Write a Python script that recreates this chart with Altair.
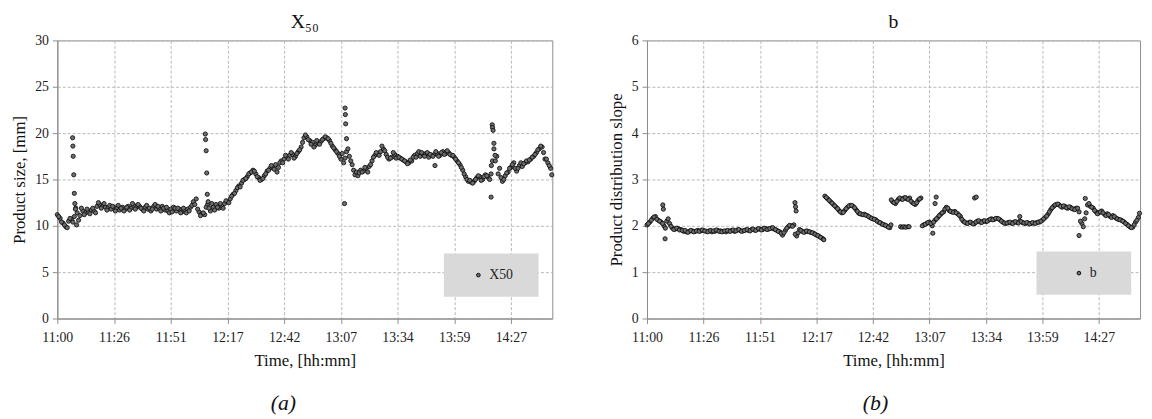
import altair as alt
import pandas as pd

tick_labels = ["11:00", "11:26", "11:51", "12:17", "12:42", "13:07", "13:34", "13:59", "14:27"]
step = 0.05  # sampling grid, in x-tick units; second list sits half a step later

x50_main = [
    11.2, 10.8, 10.3, 9.9, 10.5, 10.7, 11.0, 11.4, 11.1, 11.6,
    11.4, 11.5, 11.7, 11.6, 12.1, 12.3, 12.1, 12.0, 12.0, 11.8,
    12.0, 11.9, 11.7, 12.0, 11.8, 12.1, 11.9, 12.2, 12.0, 12.1,
    11.8, 12.0, 11.8, 11.6, 12.1, 11.8, 11.9, 12.1, 11.7, 11.6,
    11.8, 12.0, 11.6, 11.8, 11.5, 11.7, 11.8, 12.0, 12.6, 12.9,
    11.5, 11.3, 11.2, 12.3, 11.6, 12.0, 12.3, 11.9, 12.2, 12.4,
    12.6, 12.9, 13.4, 13.8, 14.3, 14.6, 15.0, 15.3, 15.7, 16.0,
    15.6, 15.2, 15.0, 15.4, 15.9, 16.2, 16.3, 16.6, 16.3, 17.0,
    17.2, 17.5, 17.6, 17.7, 17.5, 18.0, 18.5, 19.5, 19.6, 19.2,
    19.0, 18.7, 18.9, 19.1, 19.4, 19.5, 19.2, 18.6, 18.2, 17.8,
    17.2, 16.8, 18.0, 17.5, 16.6, 15.5, 15.4, 16.0, 15.9, 16.2,
    16.4, 17.0, 17.6, 17.8, 18.0, 18.3, 17.7, 17.2, 17.4, 17.7,
    17.5, 17.3, 17.1, 16.9, 16.8, 17.0, 17.6, 17.8, 17.5, 17.7,
    17.8, 17.4, 17.6, 17.7, 17.8, 17.6, 18.0, 17.8, 17.9, 17.6,
    17.4, 17.0, 16.6, 16.0, 15.3, 14.8, 14.7, 14.8, 15.2, 15.3,
    15.0, 15.5, 15.2, 15.6, 18.3, 17.5, 16.2, 14.8, 15.4, 15.8,
    16.3, 16.8, 15.9, 16.5, 16.4, 16.8, 16.9, 17.2, 17.5, 17.9,
    18.3, 18.5, 17.2, 16.8, 16.2,
]
x50_mid = [
    11.0, 10.4, 10.1, 9.8, 10.8, 10.4, 11.9, 10.6, 11.9, 11.2,
    11.8, 11.3, 11.9, 11.4, 12.5, 11.9, 12.4, 11.7, 12.2, 12.1,
    11.6, 12.2, 11.9, 11.6, 12.0, 11.7, 12.4, 11.8, 12.3, 11.9,
    11.6, 12.2, 11.9, 11.8, 12.3, 12.1, 11.6, 11.9, 12.0, 11.4,
    11.5, 11.9, 11.9, 11.4, 11.9, 11.4, 11.6, 12.2, 12.3, 11.8,
    11.1, 11.4, 12.0, 11.9, 12.4, 11.7, 12.0, 12.4, 11.9, 12.7,
    12.5, 13.2, 13.5, 14.1, 14.2, 14.9, 15.1, 15.6, 15.8, 15.9,
    15.3, 14.9, 15.1, 15.6, 16.0, 16.5, 16.1, 15.8, 16.8, 16.8,
    17.6, 17.2, 17.9, 17.3, 17.8, 18.2, 19.0, 19.8, 19.3, 18.8,
    18.5, 19.2, 18.8, 19.3, 19.6, 19.4, 18.9, 18.4, 18.0, 17.5,
    17.8, 17.3, 18.3, 17.0, 16.0, 15.8, 15.7, 15.8, 16.3, 15.8,
    16.6, 17.4, 17.9, 17.6, 18.6, 18.1, 17.4, 17.3, 17.9, 17.3,
    17.4, 17.2, 17.0, 16.7, 17.1, 17.4, 17.4, 18.0, 17.9, 17.5,
    17.9, 17.7, 17.5, 18.0, 17.5, 17.9, 17.7, 18.1, 17.7, 17.6,
    17.2, 16.8, 16.3, 15.6, 15.0, 14.9, 14.6, 15.0, 15.4, 14.9,
    15.3, 15.4, 15.0, 17.0, 17.0, 15.6, 15.2, 15.0, 15.7, 16.2,
    16.6, 16.2, 16.2, 16.8, 16.7, 17.0, 17.1, 17.4, 17.7, 18.2,
    18.6, 17.9, 17.2, 16.5,
]
x50_extra_t = [0.27, 0.275, 0.28, 0.29, 0.30, 0.31, 0.32, 0.34,
               2.61, 2.615, 2.625, 2.635, 2.645, 2.66,
               5.065, 5.075, 5.08, 5.085, 5.10, 6.66,
               7.65, 7.655, 7.67, 7.675, 7.685, 7.70, 7.72, 8.72]
x50_extra_v = [19.5, 18.6, 17.5, 15.5, 13.5, 12.4, 11.8, 10.1,
               19.9, 19.3, 18.1, 15.7, 13.4, 12.6,
               12.4, 22.7, 22.0, 21.0, 19.4, 16.5,
               13.1, 16.5, 20.9, 20.6, 20.3, 18.9, 17.6, 15.5]

b_main = [
    2.02, 2.08, 2.16, 2.20, 2.12, 2.08, 2.00, 2.10, 2.05, 1.95,
    1.93, 1.94, 1.92, 1.88, 1.87, 1.88, 1.89, 1.88, 1.90, 1.89,
    1.90, 1.88, 1.89, 1.87, 1.88, 1.90, 1.89, 1.88, 1.87, 1.89,
    1.90, 1.88, 1.91, 1.90, 1.89, 1.91, 1.90, 1.92, 1.91, 1.92,
    1.93, 1.92, 1.94, 1.93, 1.95, 1.93, 1.90, 1.87, 1.80, 1.90,
    1.98, 2.00, 2.02, 1.78, 1.92, 1.88, 1.87, 1.88, 1.86, 1.84,
    1.80, 1.77, 1.73, 2.64, 2.58, 2.52, 2.46, 2.40, 2.33, 2.28,
    2.33, 2.40, 2.44, 2.42, 2.35, 2.27, 2.25, 2.25, 2.22, 2.18,
    2.15, 2.13, 2.08, 2.05, 2.02, 1.99, 1.96, 2.52, 2.48, 2.57,
    2.58, 2.60, 2.58, 2.60, 2.50, 2.46, 2.55, 2.60, 2.02, 2.05,
    2.08, 2.00, 2.12, 2.18, 2.25, 2.30, 2.40, 2.33, 2.30, 2.31,
    2.26, 2.20, 2.10, 2.06, 2.07, 2.06, 2.05, 2.10, 2.08, 2.10,
    2.09, 2.12, 2.15, 2.14, 2.16, 2.13, 2.08, 2.05, 2.07, 2.06,
    2.08, 2.07, 2.10, 2.07, 2.05, 2.06, 2.05, 2.06, 2.07, 2.08,
    2.12, 2.18, 2.25, 2.35, 2.42, 2.46, 2.45, 2.40, 2.42, 2.38,
    2.40, 2.36, 2.38, 2.30, 2.05, 2.15, 2.45, 2.42, 2.38, 2.30,
    2.28, 2.32, 2.25, 2.26, 2.20, 2.22, 2.17, 2.14, 2.12, 2.08,
    2.03, 1.98, 1.97, 2.08, 2.18,
]
b_mid = [
    2.05, 2.12, 2.19, 2.14, 2.10, 2.05, 1.95, 2.15, 1.99, 1.92,
    1.95, 1.91, 1.90, 1.90, 1.86, 1.90, 1.87, 1.89, 1.88, 1.91,
    1.89, 1.87, 1.90, 1.89, 1.91, 1.88, 1.87, 1.89, 1.90, 1.88,
    1.91, 1.89, 1.92, 1.88, 1.90, 1.92, 1.89, 1.93, 1.90, 1.94,
    1.91, 1.95, 1.92, 1.94, 1.96, 1.92, 1.88, 1.84, 1.85, 1.95,
    2.01, 1.99, 1.82, 1.85, 1.90, 1.86, 1.89, 1.87, 1.85, 1.82,
    1.79, 1.75, 1.71, 2.61, 2.55, 2.49, 2.43, 2.37, 2.30, 2.29,
    2.37, 2.43, 2.44, 2.39, 2.31, 2.26, 2.24, 2.23, 2.20, 2.16,
    2.14, 2.10, 2.07, 2.03, 2.01, 1.97, 2.56, 2.50, 2.53, 2.60,
    2.57, 2.61, 2.57, 2.53, 2.48, 2.50, 2.58, 2.00, 2.03, 2.07,
    2.05, 2.08, 2.15, 2.22, 2.28, 2.36, 2.38, 2.31, 2.29, 2.28,
    2.23, 2.14, 2.08, 2.05, 2.08, 2.04, 2.08, 2.11, 2.07, 2.11,
    2.10, 2.14, 2.13, 2.16, 2.15, 2.10, 2.06, 2.06, 2.08, 2.05,
    2.09, 2.06, 2.09, 2.06, 2.07, 2.04, 2.07, 2.05, 2.08, 2.10,
    2.15, 2.21, 2.30, 2.39, 2.45, 2.47, 2.42, 2.43, 2.39, 2.41,
    2.37, 2.35, 2.38, 2.10, 1.98, 2.28, 2.48, 2.40, 2.33, 2.26,
    2.30, 2.28, 2.22, 2.24, 2.18, 2.20, 2.15, 2.13, 2.10, 2.05,
    2.00, 1.96, 2.02, 2.12,
]
b_extra_t = [0.28, 0.29, 0.32, 2.62, 2.63, 2.64, 3.13, 4.32, 4.49, 4.52, 4.55,
             4.58, 4.62, 4.64, 5.06, 5.10, 5.12, 5.80, 5.83, 6.60, 7.65, 7.76, 8.72]
b_extra_v = [2.45, 2.36, 1.72, 2.50, 2.41, 2.32, 1.70, 2.02, 1.98, 1.97, 1.98,
             1.97, 1.98, 1.98, 1.84, 2.48, 2.62, 2.60, 2.62, 2.20, 1.79, 2.59, 2.27]

FONT = "Liberation Serif"
label_expr = "[" + ",".join("'%s'" % s for s in tick_labels) + "][datum.value]"
BLANK = "\u2800"  # blank glyph that widens the legend box to the reference's size


def frame(main, mid, et, ev, name):
    t = ([round(i * step, 4) for i in range(len(main))]
         + [round(step / 2 + i * step, 4) for i in range(len(mid))] + list(et))
    v = list(main) + list(mid) + list(ev)
    return pd.DataFrame({"t": t, "v": v, "series": [name] * len(t)})


def panel(df, title, ytitle, ymax, yvals, n_blank, sym_off, lx, ly, w):
    x = alt.X("t:Q", scale=alt.Scale(domain=[0, 8.73], nice=False, zero=False),
              axis=alt.Axis(values=list(range(len(tick_labels))), labelExpr=label_expr,
                            labelFlush=False, title="Time, [hh:mm]",
                            labelFont=FONT, titleFont=FONT))
    y = alt.Y("v:Q", scale=alt.Scale(domain=[0, ymax], nice=False),
              axis=alt.Axis(values=yvals, title=ytitle, labelFont=FONT, titleFont=FONT))
    stroke = alt.Stroke("series:N", scale=alt.Scale(range=["#111111"]),
                        legend=alt.Legend(title=None, orient="none", legendX=lx, legendY=ly,
                                          fillColor="#d9d9d9", padding=15, symbolOffset=sym_off,
                                          symbolType="circle", symbolSize=14,
                                          symbolFillColor="#e6e6e6", symbolStrokeWidth=1,
                                          labelFont=FONT, labelFontSize=14, labelColor="#222",
                                          labelExpr="datum.label + '" + BLANK * n_blank + "'"))
    return alt.Chart(df).mark_circle(size=18, fill="#6e6e6e", fillOpacity=1, opacity=1,
                                     strokeWidth=0.9).encode(x=x, y=y, stroke=stroke).properties(
        width=w, height=282,
        title=alt.TitleParams(title, font=FONT, fontSize=20, fontWeight="normal",
                              color="#111", offset=2))


pa = panel(frame(x50_main, x50_mid, x50_extra_t, x50_extra_v, "X50"), "X\u2085\u2080",
           "Product size, [mm]", 30, [0, 5, 10, 15, 20, 25, 30], 1, 13, 392, 216, 502)
pb = panel(frame(b_main, b_mid, b_extra_t, b_extra_v, "b"), "b",
           "Product distribution slope", 6, [0, 1, 2, 3, 4, 5, 6], 2, 21, 395, 214, 500)

cap = dict(orient="bottom", font=FONT, fontSize=22, fontStyle="italic", fontWeight="normal",
           anchor="middle", offset=24, color="#111")
ga = alt.vconcat(pa, title=alt.TitleParams("(a)", **cap))
gb = alt.vconcat(pb, title=alt.TitleParams("(b)", **cap))

chart = alt.hconcat(ga, gb, spacing=51).resolve_scale(stroke="independent").properties(
    padding={"left": 2, "top": 0, "right": 0, "bottom": 0}
).configure_view(stroke="#8c8c8c", strokeWidth=1).configure_axis(
    labelFont=FONT, labelFontSize=14, labelColor="#222",
    titleFont=FONT, titleFontSize=17, titleFontWeight="normal", titleColor="#111",
    domainColor="#8c8c8c", tickColor="#8c8c8c", tickSize=5,
    gridColor="#b8b8b8", gridDash=[3, 2], gridWidth=1,
).configure_axisY(titlePadding=6, labelPadding=4).configure_axisX(titlePadding=9, labelPadding=7)

chart.save("out.html", embed_options={"renderer": "svg", "actions": False})
